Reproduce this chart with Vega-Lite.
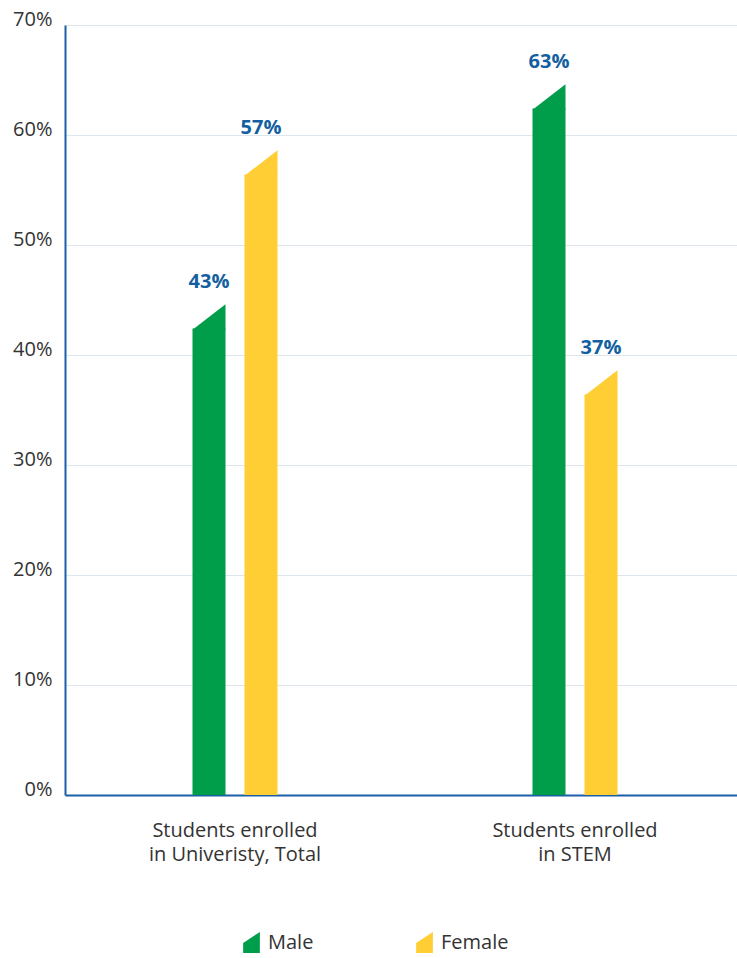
{
  "$schema": "https://vega.github.io/schema/vega-lite/v6.json",
  "autosize": "none",
  "padding": {"left": 65, "top": 25, "right": 0, "bottom": 163},
  "width": 672,
  "height": 770,
  "background": "white",
  "config": {"view": {"stroke": null}},
  "data": {"values": [
    {"group": "Students enrolled in Univeristy, Total", "gender": "Male", "value": 43, "label": "43%"},
    {"group": "Students enrolled in Univeristy, Total", "gender": "Female", "value": 57, "label": "57%"},
    {"group": "Students enrolled in STEM", "gender": "Male", "value": 63, "label": "63%"},
    {"group": "Students enrolled in STEM", "gender": "Female", "value": 37, "label": "37%"}
  ]},
  "encoding": {
    "x": {
      "field": "group", "type": "nominal", "sort": null,
      "scale": {"range": [0, 680], "paddingInner": 0, "paddingOuter": 0},
      "axis": {
        "title": null, "labelAngle": 0, "ticks": false, "grid": false,
        "domainColor": "#1b5fa6", "domainWidth": 2,
        "labelFont": "Open Sans", "labelFontSize": 20, "labelColor": "#333333",
        "labelPadding": 25, "labelBaseline": "top", "labelLineHeight": 24.5,
        "labelExpr": "['Students enrolled', replace(datum.label, 'Students enrolled ', '')]"
      }
    },
    "xOffset": {
      "field": "gender", "type": "nominal", "sort": ["Male", "Female"],
      "scale": {"range": [127.5, 212.5], "paddingInner": 0.3654, "paddingOuter": 0}
    },
    "y": {
      "field": "value", "type": "quantitative", "stack": null,
      "scale": {"domain": [0, 70], "nice": false},
      "axis": {
        "title": null, "values": [0, 10, 20, 30, 40, 50, 60, 70],
        "labelExpr": "datum.value + '%'", "ticks": false,
        "grid": true, "gridColor": "#dde6ef", "gridWidth": 1,
        "domainColor": "#1b5fa6", "domainWidth": 2,
        "labelFont": "Open Sans", "labelFontSize": 20, "labelColor": "#333333",
        "labelPadding": 13, "labelBaseline": "alphabetic"
      }
    },
    "color": {
      "field": "gender", "type": "nominal", "sort": ["Male", "Female"],
      "scale": {"domain": ["Male", "Female"], "range": ["#009d4b", "#ffcd34"]},
      "legend": {
        "orient": "none", "legendX": 176, "legendY": 907, "direction": "horizontal",
        "title": null, "symbolType": "M-0.795,0.05L0.795,-1L0.795,1L-0.795,1Z",
        "symbolSize": 441, "symbolStrokeWidth": 0, "symbolOpacity": 1,
        "labelFont": "Open Sans", "labelFontSize": 20, "labelColor": "#333333",
        "labelOffset": 6, "columnPadding": 100
      }
    }
  },
  "layer": [
    {"mark": {"type": "bar", "yOffset": 6.5, "y2Offset": 0.001}},
    {"mark": {"type": "point", "filled": true, "opacity": 1, "strokeWidth": 0,
              "shape": "M-1,0.773L1,-0.773L1,0.773Z", "size": 1089, "yOffset": -5}},
    {"mark": {"type": "text", "yOffset": -40, "baseline": "middle", "align": "center",
              "font": "Open Sans", "fontWeight": "bold", "fontSize": 20},
     "encoding": {"text": {"field": "label", "type": "nominal"},
                  "color": {"value": "#135fa0"}}}
  ]
}
